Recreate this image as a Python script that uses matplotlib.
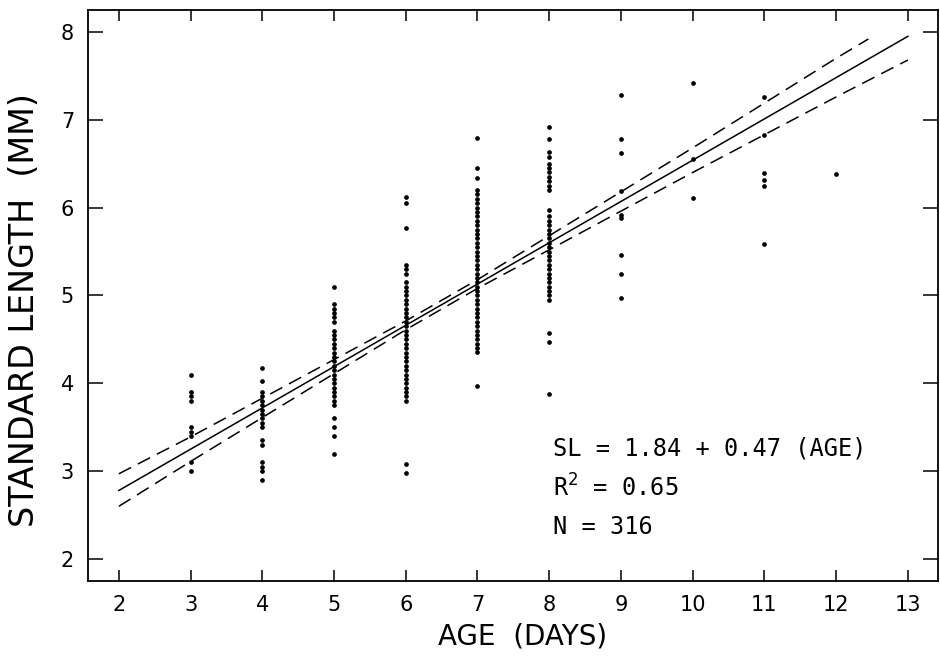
import matplotlib.pyplot as plt

# ages (days) and standard lengths (mm)
ages = [3, 4, 5, 6, 7, 8, 9, 10, 11, 12]
lengths = [
    [4.1, 3.9, 3.85, 3.8, 3.5, 3.45, 3.4, 3.1, 3.0],
    [4.17, 4.03, 3.9, 3.85, 3.8, 3.75, 3.7, 3.65, 3.6, 3.55, 3.5, 3.35, 3.3,
     3.1, 3.05, 3.0, 2.9],
    [5.1, 4.9, 4.85, 4.8, 4.75, 4.7, 4.6, 4.55, 4.5, 4.45, 4.4, 4.35, 4.3,
     4.25, 4.2, 4.15, 4.1, 4.05, 4.0, 3.95, 3.9, 3.85, 3.8, 3.75, 3.6, 3.5,
     3.4, 3.2],
    [6.12, 6.05, 5.77, 5.35, 5.3, 5.25, 5.15, 5.1, 5.05, 5.0, 4.95, 4.9, 4.85,
     4.8, 4.75, 4.7, 4.65, 4.6, 4.55, 4.5, 4.45, 4.4, 4.35, 4.3, 4.25, 4.2,
     4.15, 4.1, 4.05, 4.0, 3.95, 3.9, 3.85, 3.8, 3.08, 2.98],
    [6.79, 6.45, 6.34, 6.2, 6.15, 6.1, 6.05, 6.0, 5.95, 5.9, 5.85, 5.8, 5.75,
     5.7, 5.65, 5.6, 5.55, 5.5, 5.45, 5.4, 5.35, 5.3, 5.25, 5.2, 5.15, 5.1,
     5.05, 5.0, 4.95, 4.9, 4.85, 4.8, 4.75, 4.7, 4.65, 4.6, 4.55, 4.5, 4.45,
     4.4, 4.36, 3.97],
    [6.92, 6.78, 6.63, 6.58, 6.5, 6.45, 6.4, 6.35, 6.3, 6.25, 6.2, 5.97, 5.9,
     5.85, 5.8, 5.75, 5.7, 5.65, 5.6, 5.55, 5.5, 5.45, 5.4, 5.35, 5.3, 5.25,
     5.2, 5.15, 5.1, 5.05, 5.0, 4.95, 4.57, 4.47, 3.88],
    [7.28, 6.78, 6.62, 6.19, 5.92, 5.88, 5.46, 5.24, 4.97],
    [7.42, 6.55, 6.11],
    [7.26, 6.83, 6.39, 6.31, 6.25, 5.59],
    [6.38],
]

# regression line SL = 1.84 + 0.47 (AGE) and its confidence band
fit_x = [2, 13]
fit_y = [2.78, 7.95]
upper_x = [2, 3, 4, 5, 6, 7, 8, 9, 10, 11, 12, 12.45]
upper_y = [2.97, 3.39, 3.83, 4.27, 4.71, 5.18, 5.68, 6.18, 6.68, 7.19,
           7.70, 7.92]
lower_x = [2, 3, 4, 5, 6, 7, 8, 9, 10, 11, 12, 13]
lower_y = [2.60, 3.11, 3.61, 4.11, 4.61, 5.08, 5.52, 5.96, 6.40, 6.83,
           7.26, 7.68]

xticks = list(range(2, 14))
yticks = list(range(2, 9))

plt.rcParams["font.family"] = ["DejaVu Sans"]

fig = plt.figure(figsize=(9.4, 6.59), dpi=100)
ax = fig.add_axes([0.0936, 0.1184, 0.9043, 0.8665])

for age, vals in zip(ages, lengths):
    ax.plot([age] * len(vals), vals, "o", color="black", markersize=3.4,
            markeredgewidth=0)

ax.plot(fit_x, fit_y, color="black", lw=1.1)
ax.plot(upper_x, upper_y, color="black", lw=1.1, dashes=(9, 5))
ax.plot(lower_x, lower_y, color="black", lw=1.1, dashes=(9, 5))

ax.set_xlim(1.57, 13.42)
ax.set_ylim(1.75, 8.25)
ax.set_xticks(xticks)
ax.set_yticks(yticks)
ax.tick_params(axis="both", direction="in", labelsize=15, pad=10,
               top=True, right=True, width=1.1)
ax.tick_params(axis="x", length=8)
ax.tick_params(axis="y", length=11)
for sp in ax.spines.values():
    sp.set_linewidth(1.3)

ax.text(8.05, 3.26, "SL = 1.84 + 0.47 (AGE)", family="DejaVu Sans Mono",
        fontsize=17, va="center", ha="left")
ax.text(8.05, 2.81, r"R$^{2}$ = 0.65", family="DejaVu Sans Mono",
        fontsize=17, va="center", ha="left")
ax.text(8.05, 2.36, "N = 316", family="DejaVu Sans Mono",
        fontsize=17, va="center", ha="left")

fig.text(25 / 940, 1 - 310 / 659, "STANDARD LENGTH  (MM)", rotation=90,
         fontsize=24, ha="center", va="center")
fig.text(523 / 940, 1 - 636 / 659, "AGE  (DAYS)", fontsize=20,
         ha="center", va="center")

fig.savefig("out.png", dpi=100, facecolor="white")
